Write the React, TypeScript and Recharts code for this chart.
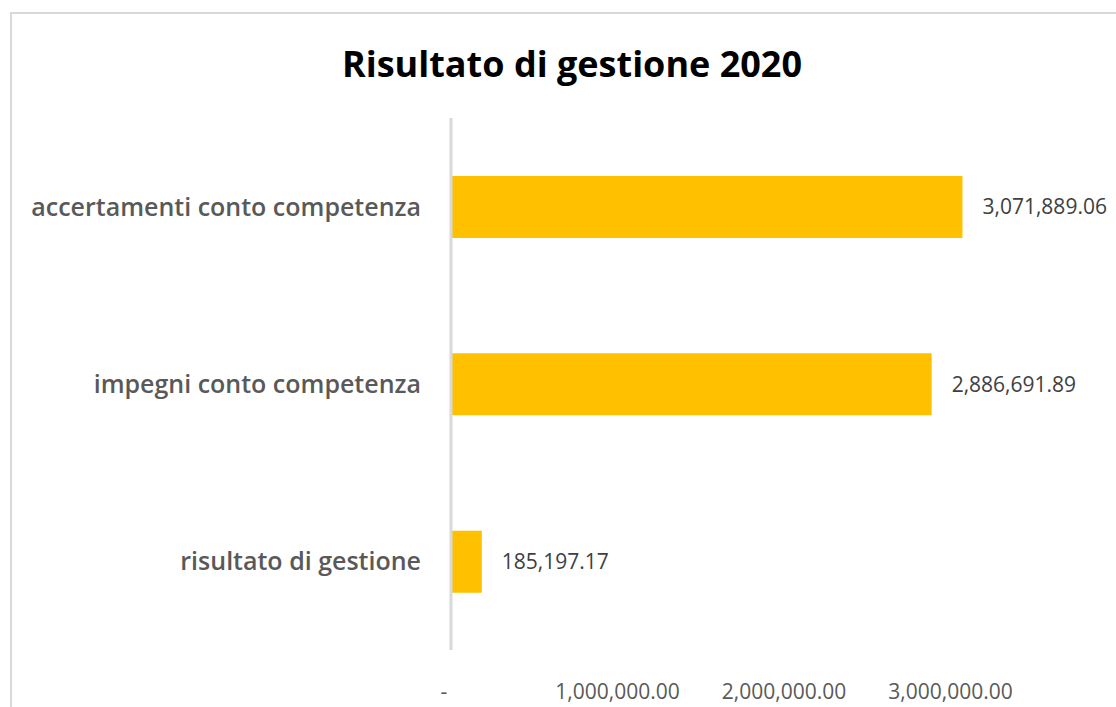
import { BarChart, Bar, XAxis, YAxis, LabelList } from "recharts";

const categories = ["accertamenti conto competenza", "impegni conto competenza", "risultato di gestione"];
const values = [3071889.06, 2886691.89, 185197.17];
const xTicks = [0, 1000000, 2000000, 3000000];
const xMax = 4000000;

const data = categories.map((name, i) => ({ name, value: values[i] }));

const FONT = "'Open Sans', 'Noto Sans', sans-serif";

const fmt = (v: number) =>
  v === 0 ? "-" : v.toLocaleString("en-US", { minimumFractionDigits: 2, maximumFractionDigits: 2 });

function XTick({ x, y, payload }: any) {
  const zero = payload.value === 0;
  return (
    <text
      x={zero ? x - 7 : x}
      y={y + 41}
      textAnchor="middle"
      fontFamily={FONT}
      fontSize={21}
      fill="#595959"
    >
      {fmt(payload.value)}
    </text>
  );
}

function YTick({ x, y, payload }: any) {
  return (
    <text x={x - 22} y={y + 9} textAnchor="end" fontFamily={FONT} fontSize={25} fontWeight={600} fill="#595959">
      {payload.value}
    </text>
  );
}

export default function App() {
  return (
    <div style={{ position: "absolute", left: 0, top: 0, width: 1116, height: 707, overflow: "hidden", background: "#fff" }}>
      <div
        style={{
          position: "absolute",
          left: 10,
          top: 12,
          width: 1200,
          height: 800,
          border: "2px solid #d9d9d9",
        }}
      />
      <div
        style={{
          position: "absolute",
          left: 0,
          top: 39,
          width: 1144,
          textAlign: "center",
          fontFamily: FONT,
          fontWeight: 700,
          fontSize: 36,
          color: "#000",
        }}
      >
        Risultato di gestione 2020
      </div>
      <div style={{ position: "absolute", left: 0, top: 0 }}>
        <BarChart
          width={1127}
          height={707}
          data={data}
          layout="vertical"
          margin={{ top: 118, right: 10, bottom: 0, left: 0 }}
        >
          <XAxis
            type="number"
            domain={[0, xMax]}
            ticks={xTicks}
            axisLine={false}
            tickLine={false}
            height={57}
            tick={<XTick />}
            interval={0}
          />
          <YAxis
            type="category"
            dataKey="name"
            width={451}
            axisLine={{ stroke: "#d9d9d9", strokeWidth: 3 }}
            tickLine={false}
            tick={<YTick />}
            interval={0}
          />
          <Bar dataKey="value" fill="#ffc000" barSize={62} isAnimationActive={false}>
            <LabelList
              dataKey="value"
              position="right"
              offset={20}
              formatter={(v: any) => fmt(Number(v))}
              style={{ fontFamily: FONT, fontSize: 21, fill: "#404040" }}
            />
          </Bar>
        </BarChart>
      </div>
    </div>
  );
}
